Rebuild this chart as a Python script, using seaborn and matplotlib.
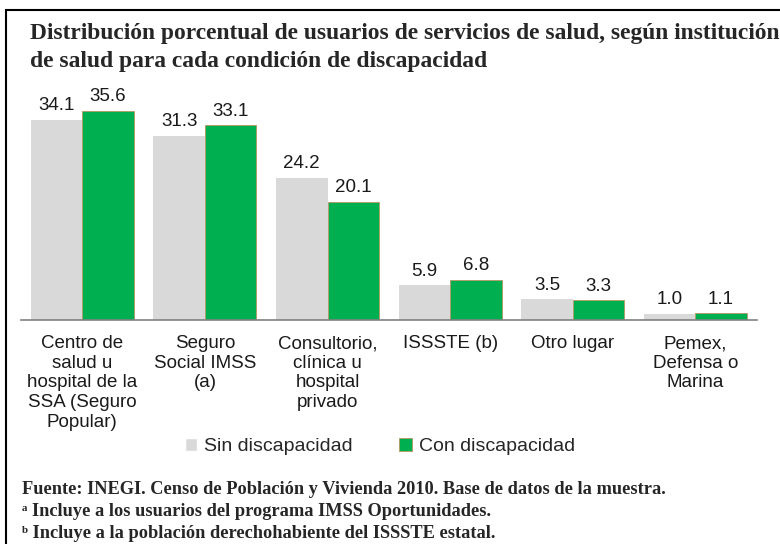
import pandas as pd
import matplotlib.pyplot as plt
import seaborn as sns
from matplotlib.patches import Rectangle

sns.set_theme(style="white")
plt.rcParams['font.family'] = ['Liberation Sans', 'DejaVu Sans']

# Data
categories = ['Centro de\nsalud u\nhospital de la\nSSA (Seguro\nPopular)',
              'Seguro\nSocial IMSS\n(a)',
              'Consultorio,\nclínica u\nhospital\nprivado',
              'ISSSTE (b)',
              'Otro lugar',
              'Pemex,\nDefensa o\nMarina']
sin_disc = [34.1, 31.3, 24.2, 5.9, 3.5, 1.0]
con_disc = [35.6, 33.1, 20.1, 6.8, 3.3, 1.1]
series = ['Sin discapacidad', 'Con discapacidad']

df = pd.DataFrame({
    'categoria': categories * 2,
    'valor': sin_disc + con_disc,
    'condicion': [series[0]] * len(categories) + [series[1]] * len(categories),
})

fig = plt.figure(figsize=(7.8, 5.44), dpi=100)
ax = fig.add_axes([0.027, 0.412, 0.943, 0.432])

sns.barplot(data=df, x='categoria', y='valor', hue='condicion',
            palette=['#D9D9D9', '#00B050'], width=0.84, gap=0,
            saturation=1, ax=ax, legend=False)

# edges: none on grey, thin tan on green
for i, cont in enumerate(ax.containers):
    for bar in cont:
        if i == 0:
            bar.set_edgecolor('none')
        else:
            bar.set_edgecolor('#B09E6E')
            bar.set_linewidth(0.7)
    ax.bar_label(cont, fmt='%.1f', padding=4, fontsize=13.5, color='#1a1a1a')

ax.set_ylim(0, 40)
ax.set_xlim(-0.5, 5.5)
ax.set_xlabel('')
ax.set_ylabel('')
ax.set_yticks([])
for s in ['top', 'right', 'left']:
    ax.spines[s].set_visible(False)
ax.spines['bottom'].set_color('#808080')
ax.spines['bottom'].set_linewidth(1.2)

ax.set_xticks(range(len(categories)))
ax.set_xticklabels(categories, fontsize=13.5, color='#1a1a1a', linespacing=1.2, va='top')
ax.tick_params(axis='x', which='major', length=0, pad=11)
ax.set_xticks([x - 0.5 for x in range(len(categories) + 1)], minor=True)
ax.tick_params(axis='x', which='minor', length=5, width=1.2, color='#404040', direction='out')

# legend
handles = [Rectangle((0, 0), 1, 1, facecolor='#D9D9D9'),
           Rectangle((0, 0), 1, 1, facecolor='#00B050', edgecolor='#B09E6E', linewidth=0.7)]
fig.legend(handles, series, loc='center', bbox_to_anchor=(0.487, 0.179), ncol=2,
           frameon=False, fontsize=14, handlelength=0.65, handleheight=0.65,
           handletextpad=0.35, columnspacing=2.4)

# title
fig.text(0.038, 1 - 33 / 544, 'Distribución porcentual de usuarios de servicios de salud, según institución',
         fontsize=16.9, fontweight='bold', family='Liberation Serif', va='center')
fig.text(0.038, 1 - 61 / 544, 'de salud para cada condición de discapacidad',
         fontsize=16.9, fontweight='bold', family='Liberation Serif', va='center')

# footnotes
notes = ['Fuente: INEGI. Censo de Población y Vivienda 2010. Base de datos de la muestra.',
         'ᵃ Incluye a los usuarios del programa IMSS Oportunidades.',
         'ᵇ Incluye a la población derechohabiente del ISSSTE estatal.']
for k, note in enumerate(notes):
    fig.text(0.028, 1 - (489 + k * 22) / 544, note, fontsize=13.2, fontweight='bold',
             family=['Liberation Serif', 'DejaVu Serif'], va='center')

# outer frame
fig.patches.append(Rectangle((6 / 780, -0.1), 1.2, 1 - 10 / 544 + 0.1, transform=fig.transFigure,
                             fill=False, edgecolor='black', linewidth=1.5))

fig.savefig('out.png', dpi=100)
